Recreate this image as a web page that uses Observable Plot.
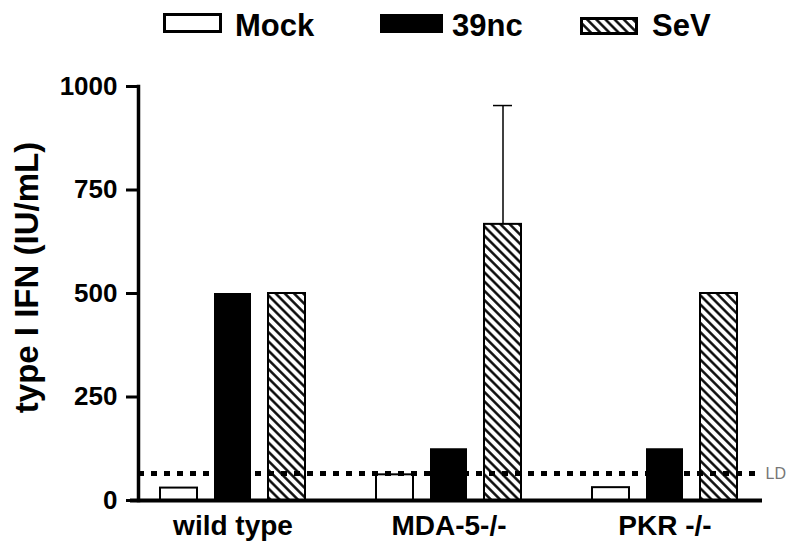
<!DOCTYPE html>
<html>
<head>
<meta charset="utf-8">
<script src="https://cdn.jsdelivr.net/npm/d3@7"></script>
<script src="https://cdn.jsdelivr.net/npm/@observablehq/plot@0.6"></script>
<style>
  body { margin: 0; background: #fff; font-family: "Liberation Sans", Arial, sans-serif; }
  #wrap { position: relative; width: 800px; }
  #legend { position: relative; height: 50px; width: 800px; }
  .sw { position: absolute; }
  .lt { position: absolute; font-size: 31px; font-weight: bold; line-height: 1; color: #000; }
</style>
</head>
<body>
<svg width="0" height="0" style="position:absolute">
  <defs>
    <pattern id="hatch" patternUnits="userSpaceOnUse" width="6.5" height="6.5" patternTransform="rotate(-45)">
      <rect width="6.5" height="6.5" fill="white"></rect>
      <line x1="3.25" y1="-1" x2="3.25" y2="7.5" stroke="black" stroke-width="2.4"></line>
    </pattern>
  </defs>
</svg>
<div id="wrap">
  <div id="legend"></div>
  <div id="chart"></div>
</div>
<script>
const groups = ["wild type", "MDA-5-/-", "PKR -/-"];
const series = ["Mock", "39nc", "SeV"];
const mockValues = [30, 62, 31];
const nc39Values = [500, 125, 125];
const sevValues = [500, 667, 500];
const sevErrUp = [0, 287, 0];
const yTicks = [0, 250, 500, 750, 1000];
const LD = 65;
const yLabel = "type I IFN (IU/mL)";

const valuesBySeries = {Mock: mockValues, "39nc": nc39Values, SeV: sevValues};
const rows = [];
groups.forEach((g, i) => {
  series.forEach(s => rows.push({key: g + "|" + s, group: g, series: s, value: valuesBySeries[s][i]}));
});
const domain = [];
groups.forEach((g, i) => {
  series.forEach(s => domain.push(g + "|" + s));
  if (i < groups.length - 1) domain.push("gap" + i);
});
const errRows = groups.map((g, i) => ({key: g + "|SeV", value: sevValues[i], err: sevErrUp[i]})).filter(d => d.err > 0);

const plot = Plot.plot({
  width: 800,
  height: 509,
  marginLeft: 138,
  marginRight: 41,
  marginTop: 36,
  marginBottom: 59,
  style: {fontFamily: "'Liberation Sans', Arial, sans-serif", background: "white", color: "black"},
  x: {domain, paddingInner: 0.32, paddingOuter: 0.35, axis: null},
  y: {domain: [0, 1000], axis: null},
  marks: [
    Plot.barY(rows.filter(d => d.series === "Mock"), {x: "key", y: "value", fill: "white", stroke: "black", strokeWidth: 2}),
    Plot.barY(rows.filter(d => d.series === "39nc"), {x: "key", y: "value", fill: "black"}),
    Plot.barY(rows.filter(d => d.series === "SeV"), {x: "key", y: "value", fill: "url(#hatch)", stroke: "black", strokeWidth: 2}),
    Plot.ruleX(errRows, {x: "key", y1: "value", y2: d => d.value + d.err, strokeWidth: 1.5}),
    Plot.tickY(errRows, {x: "key", y: d => d.value + d.err, insetLeft: 9, insetRight: 9, strokeWidth: 1.5}),
    Plot.ruleY([LD], {strokeWidth: 5, strokeDasharray: "6,7"}),
    Plot.text(["LD"], {y: () => LD, frameAnchor: "right", dx: 6, textAnchor: "start", text: d => d, fill: "#777", fontSize: 16}),
    Plot.axisY({ticks: yTicks, tickSize: 12, tickPadding: 9, strokeWidth: 3, fontSize: 26, fontWeight: "bold", label: null, tickFormat: d => String(d)}),
    Plot.axisX({ticks: groups.map(g => g + "|39nc"), tickFormat: d => d.split("|")[0], tickSize: 0, tickPadding: 15, fontSize: 28, fontWeight: "bold", label: null}),
    Plot.frame({anchor: "left", strokeWidth: 3.5}),
    Plot.ruleY([0], {strokeWidth: 4, insetLeft: -8, insetRight: -3}),
    Plot.text([yLabel], {frameAnchor: "left", text: d => d, rotate: -90, dx: -111, dy: -16, textAnchor: "middle", fontSize: 33, fontWeight: "bold", lineAnchor: "middle"})
  ]
});
document.getElementById("chart").appendChild(plot);

// legend
const legend = document.getElementById("legend");
const items = [
  {name: series[0], fill: "white", sx: 163, sy: 13, sw: 59, sh: 20, tx: 235},
  {name: series[1], fill: "black", sx: 380, sy: 14, sw: 63, sh: 19, tx: 452},
  {name: series[2], fill: "url(#hatch)", sx: 580, sy: 17, sw: 58, sh: 18, tx: 652}
];
items.forEach(it => {
  const s = d3.create("svg").attr("class", "sw").attr("width", it.sw).attr("height", it.sh)
    .style("left", it.sx + "px").style("top", it.sy + "px");
  s.append("rect").attr("x", 1.5).attr("y", 1.5).attr("width", it.sw - 3).attr("height", it.sh - 3)
    .attr("fill", it.fill).attr("stroke", "black").attr("stroke-width", 3);
  legend.appendChild(s.node());
  const t = document.createElement("div");
  t.className = "lt";
  t.style.left = it.tx + "px";
  t.style.top = "10px";
  t.textContent = it.name;
  legend.appendChild(t);
});
</script>
</body>
</html>
